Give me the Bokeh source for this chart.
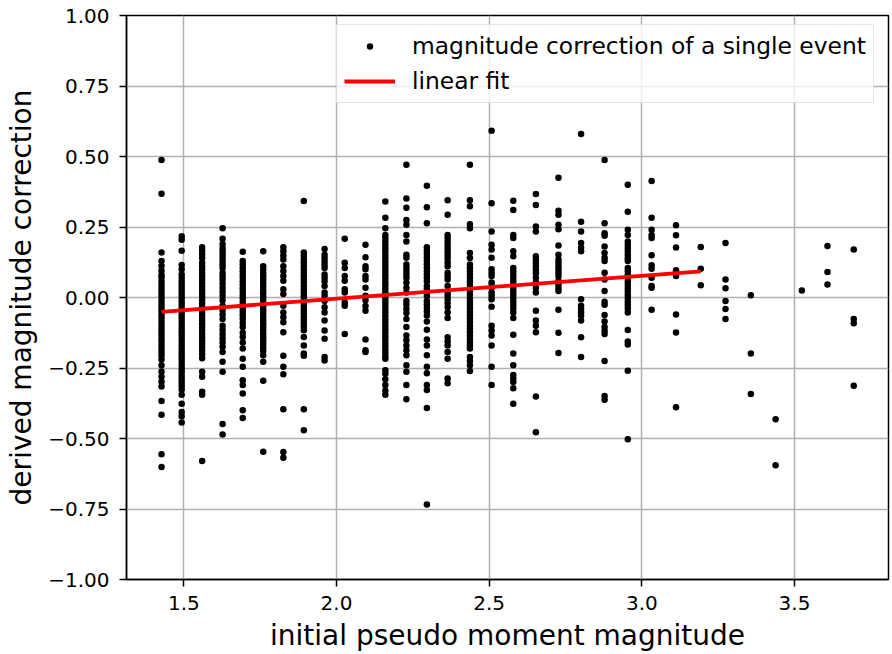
from bokeh.plotting import figure
from bokeh.models import FixedTicker, Legend, LegendItem, Range1d
from bokeh.embed import file_html
from bokeh.resources import INLINE

# magnitude bins (x) of the event columns
col_mag = [1.427, 1.493, 1.560, 1.627, 1.693, 1.760, 1.826, 1.893, 1.961, 2.027,
           2.095, 2.160, 2.229, 2.296, 2.364, 2.437, 2.508, 2.579, 2.653, 2.727,
           2.801, 2.878, 2.954, 3.032, 3.112, 3.193, 3.274, 3.357, 3.438, 3.524,
           3.608, 3.694]

c01 = [0.488, 0.368, 0.160, 0.129, 0.112, 0.095, 0.080, 0.070, 0.058, 0.046, 0.034, 0.022,
       0.010, -0.002, -0.014, -0.026, -0.038, -0.050, -0.062, -0.074, -0.086, -0.098, -0.110,
       -0.122, -0.134, -0.146, -0.158, -0.170, -0.182, -0.194, -0.206, -0.220, -0.240, -0.262,
       -0.281, -0.299, -0.316, -0.367, -0.416, -0.556, -0.601]
c02 = [0.217, 0.205, 0.166, 0.115, 0.100, 0.082, 0.070, 0.058, 0.046, 0.034, 0.022, 0.010,
       -0.002, -0.014, -0.026, -0.038, -0.050, -0.062, -0.074, -0.086, -0.098, -0.110, -0.122,
       -0.134, -0.146, -0.158, -0.170, -0.182, -0.194, -0.206, -0.218, -0.230, -0.242, -0.254,
       -0.266, -0.278, -0.290, -0.302, -0.314, -0.326, -0.345, -0.377, -0.406, -0.421, -0.443]
c03 = [0.178, 0.166, 0.153, 0.140, 0.123, 0.111, 0.099, 0.087, 0.075, 0.063, 0.051, 0.039,
       0.027, 0.015, 0.003, -0.009, -0.021, -0.033, -0.045, -0.057, -0.069, -0.081, -0.093,
       -0.105, -0.117, -0.129, -0.141, -0.153, -0.165, -0.177, -0.189, -0.201, -0.215, -0.263,
       -0.281, -0.334, -0.345, -0.580]
c04 = [0.246, 0.208, 0.190, 0.175, 0.164, 0.152, 0.140, 0.128, 0.116, 0.105, 0.088, 0.076,
       0.064, 0.050, 0.035, 0.020, 0.006, -0.010, -0.029, -0.045, -0.060, -0.076, -0.100,
       -0.115, -0.130, -0.145, -0.160, -0.175, -0.193, -0.228, -0.263, -0.449, -0.486]
c05 = [0.162, 0.129, 0.117, 0.105, 0.093, 0.081, 0.069, 0.057, 0.045, 0.033, 0.021, 0.009,
       -0.003, -0.015, -0.027, -0.039, -0.051, -0.063, -0.075, -0.090, -0.105, -0.125, -0.140,
       -0.160, -0.181, -0.217, -0.246, -0.293, -0.310, -0.340, -0.400, -0.427]
c06 = [0.164, 0.111, 0.099, 0.087, 0.075, 0.063, 0.051, 0.039, 0.027, 0.015, 0.003, -0.009,
       -0.021, -0.033, -0.045, -0.057, -0.069, -0.081, -0.093, -0.105, -0.117, -0.129, -0.141,
       -0.153, -0.165, -0.177, -0.190, -0.205, -0.228, -0.295, -0.547]
c07 = [0.178, 0.164, 0.149, 0.135, 0.111, 0.094, 0.076, 0.059, 0.029, 0.012, -0.029, -0.053,
       -0.070, -0.088, -0.123, -0.207, -0.246, -0.272, -0.396, -0.548, -0.568]
c08 = [0.342, 0.160, 0.148, 0.136, 0.124, 0.112, 0.100, 0.088, 0.076, 0.064, 0.052, 0.040,
       0.028, 0.016, 0.004, -0.008, -0.020, -0.032, -0.044, -0.056, -0.068, -0.080, -0.092,
       -0.104, -0.116, -0.140, -0.170, -0.199, -0.207, -0.396, -0.471]
c09 = [0.172, 0.152, 0.140, 0.128, 0.116, 0.105, 0.082, 0.070, 0.058, 0.041, 0.018, 0.006,
       -0.012, -0.035, -0.053, -0.082, -0.117, -0.146, -0.211, -0.223]
c10 = [0.208, 0.123, 0.105, 0.076, 0.059, 0.029, 0.018, -0.018, -0.029, -0.129]
c11 = [0.187, 0.143, 0.111, 0.100, 0.076, 0.064, 0.035, 0.006, -0.010, -0.030, -0.047,
       -0.149, -0.187, -0.193]
c12 = [0.340, 0.283, 0.246, 0.222, 0.211, 0.199, 0.187, 0.175, 0.163, 0.151, 0.139, 0.127,
       0.115, 0.103, 0.091, 0.079, 0.067, 0.055, 0.043, 0.031, 0.019, 0.007, -0.005, -0.017,
       -0.029, -0.041, -0.053, -0.065, -0.077, -0.089, -0.101, -0.113, -0.125, -0.137, -0.149,
       -0.161, -0.173, -0.185, -0.197, -0.209, -0.217, -0.258, -0.270, -0.290, -0.310, -0.330,
       -0.345]
c13 = [0.471, 0.351, 0.318, 0.275, 0.258, 0.222, 0.199, 0.152, 0.141, 0.117, 0.105, 0.093,
       0.082, 0.070, 0.053, 0.035, 0.018, -0.012, -0.025, -0.040, -0.055, -0.076, -0.105,
       -0.135, -0.152, -0.170, -0.187, -0.205, -0.240, -0.263, -0.310, -0.361]
c14 = [0.396, 0.320, 0.263, 0.178, 0.166, 0.154, 0.142, 0.130, 0.118, 0.106, 0.094, 0.082,
       0.070, 0.058, 0.041, 0.029, 0.017, 0.005, -0.012, -0.024, -0.036, -0.050, -0.064,
       -0.085, -0.114, -0.149, -0.170, -0.205, -0.246, -0.269, -0.310, -0.328, -0.392, -0.734]
c15 = [0.345, 0.293, 0.222, 0.210, 0.198, 0.186, 0.174, 0.162, 0.150, 0.138, 0.124, 0.111,
       0.088, 0.076, 0.064, 0.041, 0.018, 0.006, -0.006, -0.020, -0.035, -0.053, -0.073,
       -0.141, -0.156, -0.170, -0.193, -0.217, -0.287, -0.304]
c16 = [0.471, 0.345, 0.324, 0.260, 0.246, 0.158, 0.140, 0.117, 0.105, 0.093, 0.081, 0.069,
       0.057, 0.045, 0.033, 0.021, 0.009, -0.003, -0.015, -0.027, -0.039, -0.051, -0.063,
       -0.075, -0.087, -0.099, -0.111, -0.123, -0.135, -0.147, -0.159, -0.170, -0.181, -0.211,
       -0.225, -0.240, -0.261]
c17 = [0.591, 0.334, 0.234, 0.187, 0.170, 0.141, 0.100, 0.088, 0.076, 0.053, 0.041, 0.035,
       0.018, 0.006, -0.006, -0.033, -0.100, -0.117, -0.135, -0.170, -0.246, -0.310]
c18 = [0.343, 0.310, 0.222, 0.211, 0.164, 0.146, 0.105, 0.093, 0.081, 0.069, 0.057, 0.045,
       0.033, 0.021, 0.009, -0.003, -0.015, -0.027, -0.039, -0.053, -0.073, -0.132, -0.199,
       -0.240, -0.275, -0.287, -0.300, -0.322, -0.377]
c19 = [0.367, 0.328, 0.252, 0.234, 0.146, 0.134, 0.122, 0.110, 0.098, 0.086, 0.070, 0.053,
       0.035, 0.018, -0.047, -0.082, -0.100, -0.123, -0.351, -0.478]
c20 = [0.425, 0.308, 0.293, 0.258, 0.242, 0.184, 0.152, 0.135, 0.123, 0.111, 0.100, 0.088,
       0.076, 0.059, 0.047, 0.035, 0.023, -0.043, -0.125, -0.197]
c21 = [0.580, 0.269, 0.234, 0.193, 0.176, 0.164, -0.006, -0.029, -0.041, -0.053, -0.065,
       -0.082, -0.141, -0.211]
c22 = [0.488, 0.263, 0.228, 0.219, 0.181, 0.158, 0.141, 0.129, 0.088, 0.064, 0.023, -0.015,
       -0.026, -0.062, -0.085, -0.105, -0.118, -0.129, -0.225, -0.349, -0.363]
c23 = [0.400, 0.304, 0.240, 0.222, 0.199, 0.187, 0.175, 0.163, 0.151, 0.139, 0.129, 0.105,
       0.093, 0.081, 0.069, 0.057, 0.045, 0.033, 0.021, 0.009, -0.003, -0.015, -0.027, -0.039,
       -0.053, -0.115, -0.156, -0.167, -0.260, -0.503]
c24 = [0.413, 0.283, 0.240, 0.222, 0.211, 0.150, 0.114, 0.102, 0.070, 0.041, 0.035, -0.043]
c25 = [0.256, 0.221, 0.177, 0.097, 0.088, 0.076, -0.060, -0.124, -0.389]
c26 = [0.179, 0.102, 0.043]
c27 = [0.193, 0.064, 0.033, -0.012, -0.041, -0.076]
c28 = [0.008, -0.199, -0.342]
c29 = [-0.432, -0.595]
c30 = [0.025]
c31 = [0.183, 0.090, 0.046]
c32 = [0.170, -0.076, -0.091, -0.313]

columns = [c01, c02, c03, c04, c05, c06, c07, c08, c09, c10, c11, c12, c13, c14, c15, c16,
           c17, c18, c19, c20, c21, c22, c23, c24, c25, c26, c27, c28, c29, c30, c31, c32]

# linear fit end points
fit_x = [1.427, 3.193]
fit_y = [-0.051, 0.093]

x_ticks = [1.5, 2.0, 2.5, 3.0, 3.5]
x_tick_labels = ["1.5", "2.0", "2.5", "3.0", "3.5"]
y_ticks = [-1.0, -0.75, -0.5, -0.25, 0.0, 0.25, 0.5, 0.75, 1.0]
y_tick_labels = ["\u22121.00", "\u22120.75", "\u22120.50", "\u22120.25", "0.00",
                 "0.25", "0.50", "0.75", "1.00"]

ev_x, ev_y = [], []
for m, col in zip(col_mag, columns):
    ev_x += [m] * len(col)
    ev_y += col

FONT = "DejaVu Sans"

p = figure(width=892, height=654, output_backend="svg", toolbar_location=None,
           x_range=Range1d(1.3123, 3.8078), y_range=Range1d(-1.0, 1.0),
           min_border_left=126, min_border_right=4, min_border_top=15, min_border_bottom=72)

p.background_fill_color = "white"
p.border_fill_color = "white"
p.outline_line_color = "black"
p.outline_line_width = 1.5

for ax in (p.xaxis[0], p.yaxis[0]):
    ax.major_tick_in = 0
    ax.major_tick_out = 7
    ax.minor_tick_out = 0
    ax.minor_tick_in = 0
    ax.major_tick_line_width = 1.5
    ax.axis_line_width = 1.5
    ax.major_label_text_font = FONT
    ax.major_label_text_font_size = "20px"
    ax.major_label_text_color = "black"
    ax.axis_label_text_font = FONT
    ax.axis_label_text_font_size = "28px"
    ax.axis_label_text_font_style = "normal"
    ax.axis_label_text_color = "black"

p.xaxis.major_label_standoff = 9
p.yaxis.major_label_standoff = 10
p.xaxis.ticker = FixedTicker(ticks=x_ticks)
p.yaxis.ticker = FixedTicker(ticks=y_ticks)
p.xaxis.major_label_overrides = {t: l for t, l in zip(x_ticks, x_tick_labels)}
p.yaxis.major_label_overrides = {t: l for t, l in zip(y_ticks, y_tick_labels)}
p.xaxis.axis_label = "initial pseudo moment magnitude"
p.yaxis.axis_label = "derived magnitude correction"
p.xaxis.axis_label_standoff = 6
p.yaxis.axis_label_standoff = 7

p.grid.grid_line_color = "#b0b0b0"
p.grid.grid_line_width = 1.5

r_pts = p.scatter(ev_x, ev_y, size=6.5, color="black", line_width=0)
r_fit = p.line(fit_x, fit_y, line_color="red", line_width=3.8)

legend = Legend(items=[
    LegendItem(label="magnitude correction of a single event", renderers=[r_pts]),
    LegendItem(label="linear fit", renderers=[r_fit]),
], location=(210, 476))
legend.label_text_font = FONT
legend.label_text_font_size = "23.4px"
legend.label_text_color = "black"
legend.glyph_width = 51
legend.glyph_height = 16
legend.label_height = 26
legend.spacing = 7
legend.padding = 7
legend.margin = 0
legend.label_standoff = 17
legend.border_line_color = "#cccccc"
legend.border_line_width = 1.5
legend.background_fill_alpha = 0.8
p.add_layout(legend)

open("out.html", "w").write(file_html(p, INLINE))
